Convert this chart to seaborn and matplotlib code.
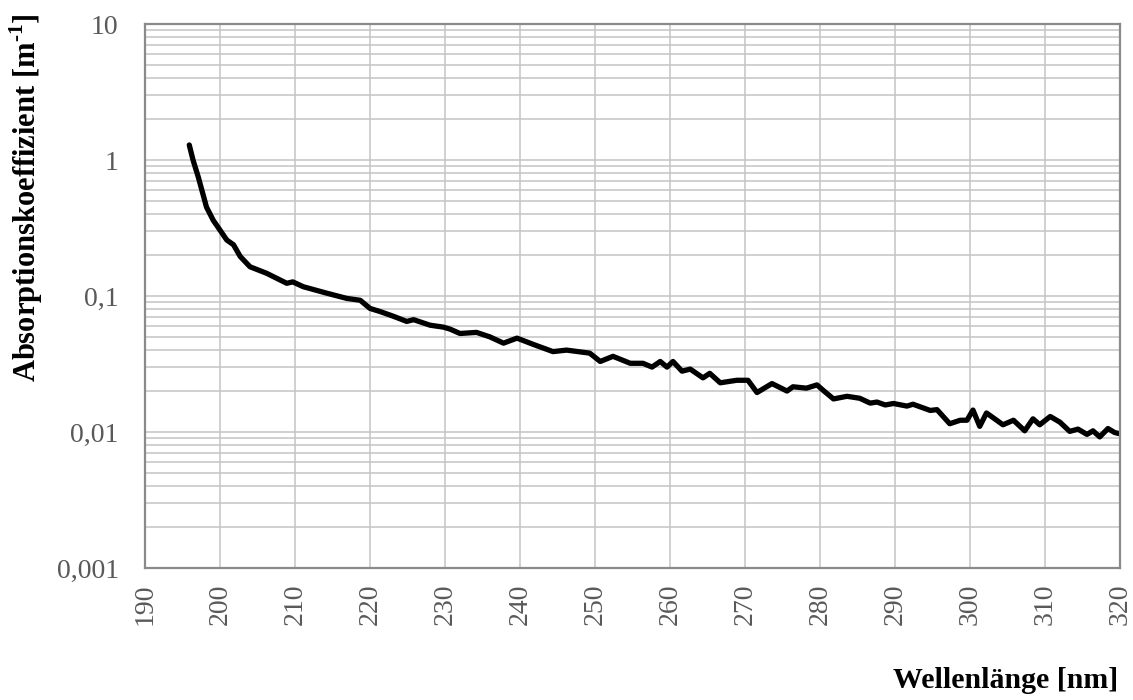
import matplotlib
matplotlib.use("Agg")
import matplotlib.pyplot as plt
import matplotlib.ticker as mticker
import numpy as np
import pandas as pd
import seaborn as sns

# Spectral absorption coefficient of water in the UV range
wavelength_nm = [
    195.9, 196.4, 197.1, 198.2, 199.1, 200.0, 200.9, 201.8, 202.7, 204.0,
    206.2, 208.9, 209.7, 211.1, 214.2, 216.9, 218.7, 220.0, 221.3, 223.1,
    224.9, 225.8, 228.0, 229.8, 230.7, 232.0, 234.2, 236.0, 237.8, 239.6,
    241.8, 244.4, 246.2, 249.3, 250.7, 252.4, 254.7, 256.4, 257.6, 258.7,
    259.6, 260.4, 261.6, 262.7, 264.4, 265.3, 266.7, 268.9, 270.4, 271.6,
    273.6, 275.6, 276.4, 278.2, 279.6, 280.4, 281.8, 283.6, 285.3, 286.7,
    287.6, 288.7, 289.8, 291.6, 292.4, 294.7, 295.6, 297.3, 298.7, 299.6,
    300.4, 301.3, 302.2, 304.4, 305.8, 307.3, 308.4, 309.3, 310.7, 312.0,
    313.3, 314.4, 315.6, 316.4, 317.3, 318.4, 319.3, 320.0,
]
absorption = [
    1.29, 1.0, 0.75, 0.45, 0.36, 0.305, 0.258, 0.238, 0.195, 0.164,
    0.147, 0.124, 0.127, 0.117, 0.105, 0.096, 0.093, 0.081, 0.077, 0.071,
    0.065, 0.067, 0.061, 0.059, 0.057, 0.053, 0.054, 0.050, 0.045, 0.049,
    0.044, 0.039, 0.040, 0.038, 0.033, 0.036, 0.032, 0.032, 0.030, 0.033,
    0.030, 0.033, 0.028, 0.029, 0.025, 0.027, 0.023, 0.024, 0.024, 0.0195,
    0.0227, 0.0200, 0.0215, 0.021, 0.0222, 0.0203, 0.0175, 0.0183, 0.0177, 0.0163,
    0.0166, 0.0158, 0.0162, 0.0155, 0.0160, 0.0144, 0.0146, 0.0115, 0.0122, 0.0122,
    0.0145, 0.0110, 0.0138, 0.0113, 0.0122, 0.0102, 0.0125, 0.0113, 0.0130, 0.0118,
    0.0101, 0.0105, 0.0096, 0.0102, 0.0092, 0.0106, 0.0099, 0.0097,
]

x_ticks = list(range(190, 321, 10))
y_ticks = [0.001, 0.01, 0.1, 1, 10]
y_tick_labels = ["0,001", "0,01", "0,1", "1", "10"]

sns.set_style("white")
plt.rcParams["font.family"] = ["Liberation Serif", "DejaVu Serif"]
plt.rcParams["mathtext.fontset"] = "custom"
plt.rcParams["mathtext.rm"] = "Liberation Serif:bold"
plt.rcParams["mathtext.bf"] = "Liberation Serif:bold"

df = pd.DataFrame({"wl": wavelength_nm, "a": absorption})

fig = plt.figure(figsize=(11.33, 7.0), dpi=100)
ax = fig.add_axes([0.128, 0.1886, 0.8605, 0.7771])

sns.lineplot(data=df, x="wl", y="a", ax=ax, color="black", linewidth=3.8,
             solid_joinstyle="round", solid_capstyle="round", sort=False)

ax.set_yscale("log")
ax.set_xlim(190, 320)
ax.set_ylim(0.001, 10)

ax.xaxis.set_major_locator(mticker.FixedLocator(x_ticks))
ax.yaxis.set_major_locator(mticker.FixedLocator(y_ticks))
ax.yaxis.set_major_formatter(mticker.FixedFormatter(y_tick_labels))
ax.yaxis.set_minor_locator(mticker.LogLocator(base=10, subs=np.arange(2, 10)))
ax.yaxis.set_minor_formatter(mticker.NullFormatter())

grid_color = "#c4c4c4"
ax.grid(True, which="major", axis="both", color=grid_color, linewidth=1.1)
ax.grid(True, which="minor", axis="y", color=grid_color, linewidth=1.1)
ax.set_axisbelow(True)

for s in ax.spines.values():
    s.set_color("#8a8a8a")
    s.set_linewidth(1.6)

ax.tick_params(axis="both", which="both", length=0, labelcolor="#595959",
               labelsize=20)
ax.tick_params(axis="x", labelrotation=90, pad=11)
ax.tick_params(axis="y", pad=19)

ax.set_xlabel("")
ax.set_ylabel("")
fig.text(26 / 1133, 1 - 198 / 700, r"Absorptionskoeffizient [m$^{\text{-}1}$]",
         rotation=90, ha="center", va="center", fontsize=22,
         fontweight="bold", color="black")
fig.text(0.987, 12 / 700, "Wellenlänge [nm]", ha="right", va="baseline",
         fontsize=21.5, fontweight="bold", color="black")

fig.savefig("out.png", dpi=100)
